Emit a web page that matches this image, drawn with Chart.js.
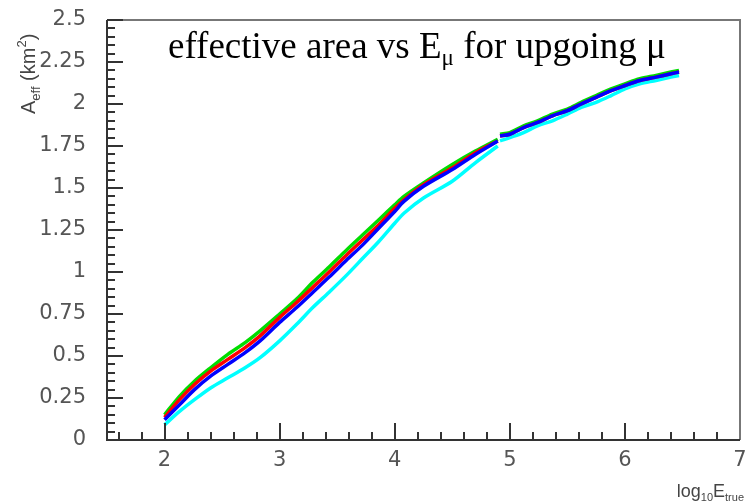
<!DOCTYPE html>
<html>
<head>
<meta charset="utf-8">
<script src="https://cdn.jsdelivr.net/npm/chart.js@4"></script>
<style>
  html, body { margin:0; padding:0; background:#fff; }
  canvas { display:block; }
</style>
</head>
<body>
<canvas id="effChart" width="746" height="503"></canvas>
<script>
// ============ DATA ============
// low energy sample (log10 E from 2 up to ~4.9)
const xLow = [2.0, 2.13, 2.26, 2.4, 2.55, 2.7, 2.83, 3.0, 3.15, 3.29, 3.43, 3.58, 3.72, 3.86, 4.0, 4.08, 4.25, 4.5, 4.7, 4.895];
const greenLow = [0.15, 0.26, 0.35, 0.43, 0.51, 0.58, 0.65, 0.75, 0.84, 0.94, 1.03, 1.13, 1.22, 1.31, 1.40, 1.45, 1.53, 1.64, 1.72, 1.79];
const redLow   = [0.135, 0.24, 0.33, 0.41, 0.48, 0.55, 0.62, 0.73, 0.82, 0.91, 1.00, 1.10, 1.19, 1.28, 1.38, 1.43, 1.52, 1.62, 1.71, 1.78];
const blueLow  = [0.12, 0.21, 0.30, 0.38, 0.45, 0.52, 0.59, 0.70, 0.79, 0.88, 0.97, 1.07, 1.16, 1.26, 1.36, 1.42, 1.51, 1.61, 1.70, 1.78];
const cyanLow  = [0.09, 0.17, 0.24, 0.31, 0.37, 0.43, 0.49, 0.59, 0.69, 0.79, 0.88, 0.98, 1.08, 1.18, 1.29, 1.35, 1.44, 1.54, 1.65, 1.75];

// high energy sample (log10 E from ~4.9 to 6.5)
const xHigh = [4.915, 5.0, 5.12, 5.24, 5.37, 5.5, 5.62, 5.75, 5.88, 6.0, 6.13, 6.27, 6.4, 6.47];
const greenHigh = [1.82, 1.83, 1.87, 1.90, 1.94, 1.97, 2.01, 2.05, 2.09, 2.12, 2.15, 2.17, 2.19, 2.20];
const redHigh   = [1.81, 1.82, 1.86, 1.89, 1.93, 1.96, 2.00, 2.04, 2.08, 2.11, 2.14, 2.16, 2.18, 2.19];
const blueHigh  = [1.81, 1.82, 1.86, 1.89, 1.93, 1.96, 2.00, 2.04, 2.08, 2.11, 2.14, 2.16, 2.18, 2.19];
const cyanHigh  = [1.78, 1.80, 1.83, 1.87, 1.90, 1.94, 1.98, 2.01, 2.05, 2.09, 2.12, 2.14, 2.16, 2.17];

const seriesColors = ['#00dd00', '#ff0000', '#0000ff', '#00ffff'];
const yTickStep = 0.25;
const xTickStep = 1;

function pts(xs, ys) { return xs.map((x,i)=>({x:x, y:ys[i]})); }
function series(low, high) {
  // null point splits the two samples
  return pts(xLow, low).concat([{x:4.905, y:null}], pts(xHigh, high));
}

const lineSets = [
  { data: series(greenLow, greenHigh), borderColor: seriesColors[0], order: 3 },
  { data: series(redLow, redHigh),     borderColor: seriesColors[1], order: 2 },
  { data: series(blueLow, blueHigh),   borderColor: seriesColors[2], order: 1 },
  { data: series(cyanLow, cyanHigh),   borderColor: seriesColors[3], order: 4 }
];

// ============ FRAME / TICKS / TEXT ============
const framePlugin = {
  id: 'rootFrame',
  afterDraw(chart) {
    const c = chart.ctx, a = chart.chartArea;
    const xs = chart.scales.x, ys = chart.scales.y;
    c.save();
    // frame
    c.strokeStyle = '#777'; c.lineWidth = 2;
    c.beginPath(); c.moveTo(a.left, a.top); c.lineTo(a.right, a.top); c.lineTo(a.right, a.bottom); c.stroke();
    c.strokeStyle = '#333';
    c.beginPath(); c.moveTo(a.left, a.top); c.lineTo(a.left, a.bottom); c.lineTo(a.right, a.bottom); c.stroke();

    // inner ticks
    c.lineWidth = 2; c.strokeStyle = '#333';
    c.beginPath();
    for (let k = 0; k <= 50; k++) {
      const py = Math.round(ys.getPixelForValue(k * 0.05));
      const len = (k % 5 === 0) ? 16 : 8;
      c.moveTo(a.left, py); c.lineTo(a.left + len, py);
    }
    for (let k = 8; k <= 35; k++) {
      const px = Math.round(xs.getPixelForValue(k * 0.2));
      if (px > a.right - 1) continue;
      const len = (k % 5 === 0) ? 17 : 8;
      c.moveTo(px, a.bottom); c.lineTo(px, a.bottom - len);
    }
    c.stroke();

    // title inside plot
    c.fillStyle = '#000';
    c.textBaseline = 'alphabetic';
    const big = 37, small = 23;
    const parts = [
      ['effective area vs E', big, 0],
      ['\u03bc', small, 7],
      [' for upgoing \u03bc', big, 0]
    ];
    let x = 168;
    parts.forEach(p => {
      c.font = p[1] + 'px "Liberation Serif", "DejaVu Serif", serif';
      c.fillText(p[0], x, 58 + p[2]);
      x += c.measureText(p[0]).width;
    });

    // y title, rotated
    c.fillStyle = '#444';
    c.save();
    c.translate(35, 114);
    c.rotate(-Math.PI / 2);
    let tx = 0;
    [['A', 20, 0], ['eff', 13, 5], [' (km', 20, 0], ['2', 13, -9], [')', 20, 0]].forEach(p => {
      c.font = p[1] + 'px "Liberation Sans", Arial, sans-serif';
      c.fillText(p[0], tx, p[2]);
      tx += c.measureText(p[0]).width;
    });
    c.restore();

    // x title
    const xp = [['log', 18, 0], ['10', 11, 4], ['E', 18, 0], ['true', 11, 4]];
    let w = 0;
    xp.forEach(p => { c.font = p[1] + 'px "Liberation Sans", Arial, sans-serif'; w += c.measureText(p[0]).width; });
    tx = 744 - w;
    xp.forEach(p => {
      c.font = p[1] + 'px "Liberation Sans", Arial, sans-serif';
      c.fillText(p[0], tx, 497 + p[2]);
      tx += c.measureText(p[0]).width;
    });
    c.restore();
  }
};

const tickFont = { family: '"DejaVu Sans", sans-serif', size: 21 };

new Chart(document.getElementById('effChart'), {
  type: 'line',
  data: { datasets: lineSets },
  options: {
    responsive: false,
    animation: false,
    layout: { padding: { top: 20, right: 6, left: 0, bottom: 0 } },
    plugins: { legend: { display: false }, tooltip: { enabled: false } },
    elements: {
      point: { radius: 0 },
      line: { borderWidth: 3.5, tension: 0.3, fill: false }
    },
    spanGaps: false,
    scales: {
      x: {
        type: 'linear', min: 1.5, max: 7,
        grid: { display: false }, border: { display: false },
        ticks: { stepSize: xTickStep, includeBounds: false, color: '#555', font: tickFont, padding: 0, maxRotation: 0,
                 callback: v => String(v) },
        afterFit(s) { s.height = 63; s.paddingLeft = 0; s.paddingRight = 0; }
      },
      y: {
        min: 0, max: 2.5,
        grid: { display: false }, border: { display: false },
        ticks: { stepSize: yTickStep, color: '#555', font: tickFont, padding: 13,
                 callback: v => String(+v.toFixed(2)) },
        afterFit(s) { s.width = 107; s.paddingTop = 0; s.paddingBottom = 0; }
      }
    }
  },
  plugins: [framePlugin]
});
</script>
</body>
</html>
